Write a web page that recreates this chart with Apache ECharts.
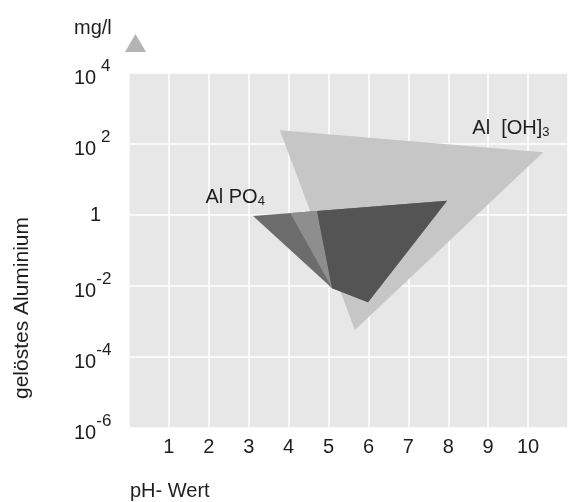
<!DOCTYPE html>
<html><head><meta charset="utf-8">
<script src="https://cdn.jsdelivr.net/npm/echarts@6/dist/echarts.min.js"></script>
<style>html,body{margin:0;padding:0;background:#fff}#c{width:577px;height:502px}</style>
</head><body><div id="c"></div>
<script>
// ---- data ----
const phTicks = [1, 2, 3, 4, 5, 6, 7, 8, 9, 10];
const concentrationExponents = [-6, -4, -2, 0, 2, 4];
// polygon vertices: [pH, dissolved Al in mg/l]
const aluminiumHydroxide = [[3.78, 245], [10.38, 59], [5.66, 5.8e-4]];
const aluminiumPhosphate = [[3.11, 0.93], [7.97, 2.5], [5.99, 3.5e-3], [5.09, 8.7e-3]];
const phosphateLightStrip = [[4.04, 1.14], [4.71, 1.29], [5.09, 8.7e-3]];
const phosphateOverlap = [[4.71, 1.29], [7.97, 2.5], [5.99, 3.5e-3], [5.09, 8.7e-3]];
// annotation anchors [pH, mg/l]
const labelPhosphatePos = [2.66, 3.2];
const labelHydroxidePos = [9.57, 280];

const FONT = '"Liberation Sans", Arial, Helvetica, sans-serif';
const TXT = '#1e1e1e';

function polygonSeries(name, pts, color, z) {
  return {
    type: 'custom', name: name, coordinateSystem: 'cartesian2d', z: z, silent: true,
    data: pts, encode: { x: 0, y: 1 },
    renderItem: function (params, api) {
      if (params.dataIndex !== 0) return null;
      return { type: 'polygon', shape: { points: pts.map(function (p) { return api.coord(p); }) },
               style: { fill: color } };
    }
  };
}
function textSeries(pos, text, rich, z) {
  return {
    type: 'custom', coordinateSystem: 'cartesian2d', z: z, silent: true,
    data: [pos], encode: { x: 0, y: 1 },
    renderItem: function (params, api) {
      const c = api.coord(pos);
      return { type: 'text', x: c[0], y: c[1],
               style: { text: text, rich: rich, align: 'center', verticalAlign: 'middle',
                        font: '20px ' + FONT, fill: TXT } };
    }
  };
}

const chart = echarts.init(document.getElementById('c'), null, { renderer: 'canvas' });
chart.setOption({
  animation: false,
  backgroundColor: '#ffffff',
  grid: { left: 129, right: 9, top: 73, bottom: 74, show: true, backgroundColor: '#e7e7e7', borderWidth: 0 },
  xAxis: {
    type: 'value', min: 0, max: 11, interval: 1,
    axisLine: { show: false }, axisTick: { show: false },
    splitLine: { show: true, lineStyle: { color: '#ffffff', width: 1.5 } },
    axisLabel: {
      margin: 9, fontSize: 20, fontFamily: FONT, color: TXT,
      formatter: function (v) { return phTicks.indexOf(v) >= 0 ? String(v) : ''; }
    }
  },
  yAxis: {
    type: 'log', logBase: 10, min: 1e-6, max: 1e4, interval: 2,
    axisLine: { show: false }, axisTick: { show: false },
    splitLine: { show: true, lineStyle: { color: '#ffffff', width: 1.5 } },
    axisLabel: {
      margin: 55, align: 'left', color: TXT, fontFamily: FONT,
      formatter: function (v) {
        const e = Math.round(Math.log10(v));
        if (concentrationExponents.indexOf(e) < 0) return '';
        if (e === 0) return '{one|1}';
        return '{b|10}{sup|' + (e > 0 ? ' ' + e : e) + '}';
      },
      rich: {
        one: { fontSize: 20, fontFamily: FONT, color: TXT, padding: [0, 0, 0, 16] },
        b: { fontSize: 20, fontFamily: FONT, color: TXT, lineHeight: 30, verticalAlign: 'bottom' },
        sup: { fontSize: 17, fontFamily: FONT, color: TXT, lineHeight: 30, verticalAlign: 'top' }
      }
    }
  },
  graphic: [
    { type: 'text', left: 74, top: 18, style: { text: 'mg/l', font: '20px ' + FONT, fill: TXT } },
    { type: 'polygon', shape: { points: [[125, 52], [146, 52], [135.5, 34]] }, style: { fill: '#b4b4b4' } },
    { type: 'text', x: 22, y: 308, rotation: Math.PI / 2,
      style: { text: 'gelöstes Aluminium', font: '21px ' + FONT, fill: TXT, align: 'center', verticalAlign: 'middle' } },
    { type: 'text', left: 130, top: 481, style: { text: 'pH- Wert', font: '20px ' + FONT, fill: TXT } }
  ],
  series: [
    polygonSeries('Al [OH]3', aluminiumHydroxide, '#c6c6c6', 2),
    polygonSeries('Al PO4', aluminiumPhosphate, '#6c6c6c', 3),
    polygonSeries('Al PO4 strip', phosphateLightStrip, '#8e8e8e', 4),
    polygonSeries('Al PO4 overlap', phosphateOverlap, '#545454', 5),
    textSeries(labelPhosphatePos, 'Al PO{sub|4}', {
      sub: { fontSize: 13, fontFamily: FONT, fill: TXT, color: TXT, verticalAlign: 'bottom', lineHeight: 22 }
    }, 6),
    textSeries(labelHydroxidePos, 'Al  [OH]{sub|3}', {
      sub: { fontSize: 13, fontFamily: FONT, fill: TXT, color: TXT, verticalAlign: 'bottom', lineHeight: 22 }
    }, 6)
  ]
});
</script>
</body></html>
